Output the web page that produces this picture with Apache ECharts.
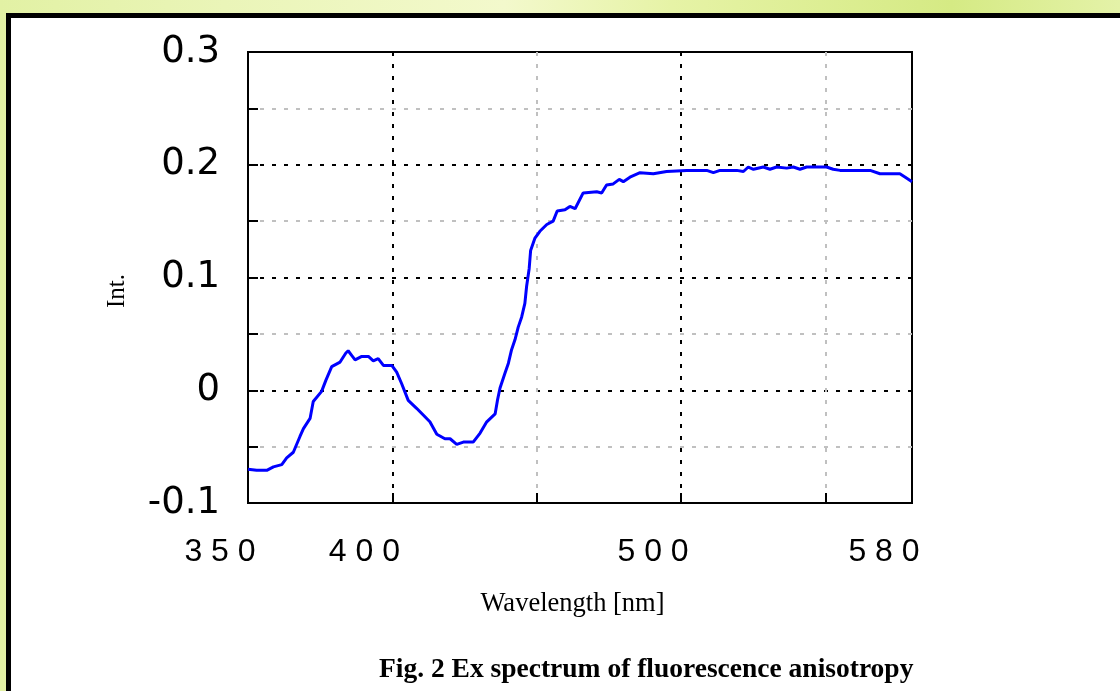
<!DOCTYPE html>
<html><head><meta charset="utf-8">
<script src="https://cdn.jsdelivr.net/npm/echarts@6/dist/echarts.min.js"></script>
<style>
html,body{margin:0;padding:0;overflow:hidden;width:1120px;height:691px;}
#bg{position:absolute;left:0;top:0;width:1120px;height:691px;background:linear-gradient(90deg,#e2f1a4 0%,#eaf5b8 20%,#f3f9cc 45%,#e6f3a6 60%,#d5ea84 85%,#e4f2a8 100%);}
#frame{position:absolute;left:6px;top:13px;width:1200px;height:800px;background:#fff;border-left:5px solid #000;border-top:5px solid #000;}
#chart{position:absolute;left:0;top:0;width:1120px;height:691px;}
</style></head><body><div id="bg"></div><div id="frame"></div><div id="chart"></div>
<script>
const wavelengths = [350.0,353.0,356.5,358.8,361.7,363.4,365.7,368.0,369.2,371.5,372.6,375.5,377.0,379.0,381.9,383.9,384.7,385.9,387.1,389.4,391.7,393.4,395.1,396.9,399.8,401.5,403.2,405.5,408.4,410.7,413.0,415.4,418.2,420.0,422.3,424.6,428.0,430.4,432.7,435.6,436.4,437.3,439.0,440.2,441.3,442.5,443.6,444.8,445.9,446.5,447.4,447.9,449.4,451.1,453.5,455.7,457.1,459.8,461.5,463.3,466.1,470.8,472.5,474.2,476.5,478.6,480.0,482.3,485.8,490.4,495.0,498.5,502.0,508.9,511.2,513.5,519.3,521.6,523.3,525.1,528.5,530.8,533.1,536.6,538.9,541.2,543.5,550.4,552.7,555.1,565.5,568.9,575.8,578.2,580.0];
const intensities = [-0.070,-0.071,-0.071,-0.068,-0.066,-0.060,-0.055,-0.041,-0.034,-0.025,-0.010,-0.001,0.009,0.021,0.025,0.033,0.035,0.031,0.027,0.030,0.030,0.026,0.028,0.022,0.022,0.016,0.006,-0.009,-0.016,-0.022,-0.028,-0.039,-0.043,-0.043,-0.048,-0.046,-0.046,-0.038,-0.028,-0.021,-0.009,0.002,0.015,0.024,0.036,0.045,0.056,0.065,0.077,0.092,0.108,0.124,0.135,0.141,0.147,0.150,0.159,0.160,0.163,0.161,0.175,0.176,0.175,0.182,0.183,0.187,0.185,0.189,0.193,0.192,0.194,0.1945,0.195,0.195,0.193,0.195,0.195,0.194,0.198,0.196,0.198,0.196,0.198,0.197,0.198,0.196,0.198,0.198,0.196,0.195,0.195,0.192,0.192,0.188,0.185];
const xLabelValues = [350, 400, 500, 580];
const xTickValues = [400, 450, 500, 550];
const yLabelValues = [-0.1, 0, 0.1, 0.2, 0.3];
const xAxisName = 'Wavelength [nm]';
const yAxisName = 'Int.';
const titleText = 'Fig. 2 Ex spectrum of fluorescence anisotropy';

const seriesData = wavelengths.map((w, i) => [w, intensities[i]]);
const chart = echarts.init(document.getElementById('chart'));
chart.setOption({
  backgroundColor: 'transparent',
  animation: false,
  title: {
    text: titleText, left: 374, top: 651,
    textStyle: {fontFamily: 'Liberation Serif', fontWeight: 'bold', fontSize: 27.5, color: '#000'}
  },
  grid: {left: 248, right: 208, top: 52, bottom: 188, show: true, borderColor: '#000', borderWidth: 2, backgroundColor: 'transparent'},
  xAxis: {
    type: 'value', min: 350, max: 580, interval: 50,
    name: xAxisName, nameLocation: 'middle', nameGap: 88,
    nameTextStyle: {fontFamily: 'Liberation Serif', fontSize: 26.5, color: '#000', padding: [0, 15, 0, 0]},
    axisLine: {show: true, onZero: false, lineStyle: {color: '#000', width: 2}},
    axisTick: {show: true, inside: true, length: 10, customValues: xTickValues, lineStyle: {color: '#000', width: 2}},
    axisLabel: {
      customValues: xLabelValues, margin: 33, fontFamily: 'Liberation Sans', fontSize: 32, color: '#000',
      align: 'center', padding: [0, 56, 0, 0],
      formatter: v => String(Math.round(v)).split('').join(' ')
    },
    splitLine: {show: true, lineStyle: {color: ['#000', '#c0c0c0'], width: 2, type: [4, 8]}}
  },
  yAxis: {
    type: 'value', min: -0.1, max: 0.3, interval: 0.05,
    name: yAxisName, nameLocation: 'middle', nameGap: 118, nameRotate: 90,
    nameTextStyle: {fontFamily: 'Liberation Serif', fontSize: 25, color: '#000', padding: [0, 27, 0, 0]},
    axisLine: {show: true, onZero: false, lineStyle: {color: '#000', width: 2}},
    axisTick: {show: true, inside: true, length: 10, lineStyle: {color: '#000', width: 2}},
    axisLabel: {
      customValues: yLabelValues, margin: 28, fontFamily: 'DejaVu Sans', fontSize: 37, color: '#000',
      formatter: v => (Math.abs(v) < 1e-9 ? '0' : String(Math.round(v * 10) / 10))
    },
    splitLine: {show: true, lineStyle: {color: ['#000', '#c0c0c0'], width: 2, type: [4, 8]}}
  },
  series: [{
    type: 'line', data: seriesData, showSymbol: false, symbol: 'none',
    lineStyle: {color: '#0000ff', width: 3}, itemStyle: {color: '#0000ff'}
  }]
});
</script></body></html>
